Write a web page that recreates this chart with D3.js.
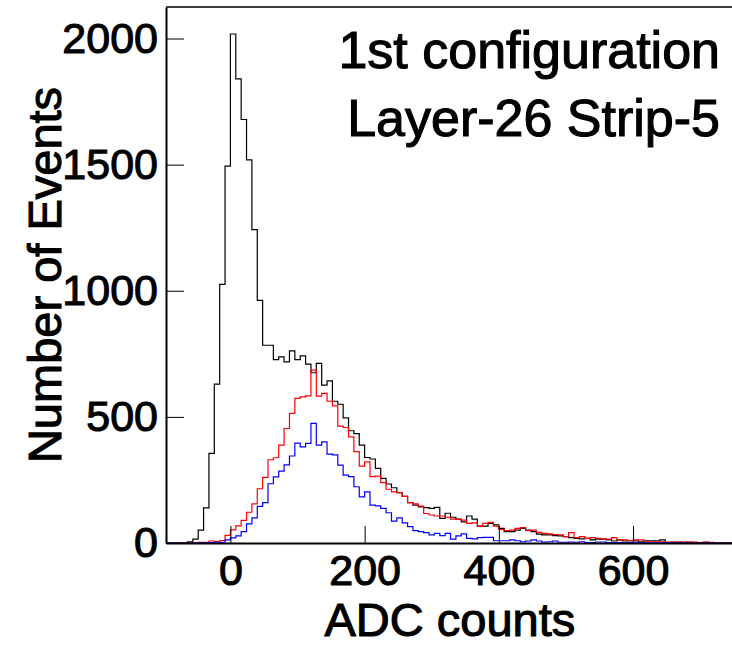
<html>
    <head>
        <title>ADC counts</title>
        <script src="https://d3js.org/d3.v7.min.js"></script>
        <style>
            body { margin: 0; background: #fff; }
            text { font-family: "Liberation Sans", Arial, sans-serif; fill: #000; stroke: #000; stroke-width: 1.1px; }
        </style>
    </head>
    <body>
        <script>
            // histogram bins: 8 ADC counts wide, first bin starts at -96
            const binLow = -96;
            const binWidth = 8;

            const allEvents = [
                0, 0, 1, 2, 5, 15, 51, 139, 355, 630,
                1025, 1494, 2018, 1840, 1679, 1519, 1242, 962, 784, 784,
                727, 738, 718, 762, 727, 742, 709, 675, 712, 626,
                643, 562, 550, 496, 445, 434, 388, 339, 333, 296,
                256, 234, 219, 200, 185, 160, 150, 143, 140, 137,
                141, 98, 118, 102, 95, 84, 107, 95, 67, 67,
                78, 72, 58, 45, 45, 51, 58, 51, 45, 35,
                32, 32, 29, 28, 25, 21, 18, 16, 18, 12,
                15, 15, 12, 8, 12, 8, 9, 9, 5, 9,
                9, 9, 12, 3, 3, 4, 3, 2, 3, 2,
                3, 1, 2, 1, 2, 1
            ];
            const redEvents = [
                0, 0, 0, 0, 1, 2, 3, 3, 8, 6,
                10, 30, 52, 68, 90, 122, 155, 215, 260, 330,
                338, 388, 454, 514, 573, 579, 583, 685, 582, 593,
                562, 544, 463, 458, 421, 362, 305, 322, 263, 265,
                239, 213, 203, 200, 185, 160, 155, 146, 117, 111,
                107, 107, 102, 95, 94, 91, 78, 80, 67, 78,
                82, 67, 54, 49, 51, 58, 61, 49, 51, 42,
                38, 36, 33, 32, 25, 41, 21, 25, 18, 21,
                18, 16, 15, 21, 12, 12, 9, 12, 12, 5,
                5, 5, 5, 3, 4, 3, 4, 5, 3, 2,
                4, 3, 2, 2, 1, 2
            ];
            const blueEvents = [
                0, 0, 0, 0, 0, 0, 1, 1, 2, 3,
                3, 12, 20, 28, 45, 76, 100, 145, 160, 235,
                262, 285, 310, 345, 396, 381, 395, 474, 388, 401,
                352, 349, 309, 269, 263, 223, 183, 203, 150, 147,
                137, 120, 87, 100, 80, 65, 49, 45, 41, 32,
                38, 29, 38, 15, 28, 36, 18, 16, 21, 22,
                22, 9, 9, 9, 12, 9, 5, 8, 12, 8,
                4, 5, 8, 3, 3, 4, 3, 5, 2, 2,
                4, 4, 2, 1, 2, 1, 2, 3, 1, 1,
                0, 1, 1, 0, 1, 0, 0, 0, 0, 0,
                0, 0, 0, 0, 0, 0
            ];

            const xTickValues = [0, 200, 400, 600];
            const yTickValues = [0, 500, 1000, 1500, 2000];
            const titleLines = ["1st configuration", "Layer-26 Strip-5"];

            const w = 732;
            const h = 646;
            const padLeft = 166, padRight = 733.7, padTop = 7, padBottom = 543;

            const xScale = d3.scaleLinear().domain([-96, 750]).range([padLeft, padRight]);
            const yScale = d3.scaleLinear().domain([0, 2125]).range([padBottom, padTop]);

            const svg = d3.select("body")
                .append("svg")
                .attr("width", w)
                .attr("height", h);

            svg.append("rect").attr("width", w).attr("height", h).attr("fill", "#fff");

            svg.append("clipPath").attr("id", "plot")
                .append("rect")
                .attr("x", padLeft).attr("y", padTop)
                .attr("width", padRight - padLeft).attr("height", padBottom - padTop + 1);

            const step = d3.line().curve(d3.curveStepAfter);
            function histPoints(counts) {
                const pts = counts.map((c, i) => [xScale(binLow + i * binWidth), yScale(c)]);
                pts.push([xScale(binLow + counts.length * binWidth), yScale(counts[counts.length - 1])]);
                return pts;
            }

            const hists = svg.append("g").attr("clip-path", "url(#plot)");
            [[allEvents, "#000"], [redEvents, "#ff0000"], [blueEvents, "#0000ff"]].forEach(([counts, color]) => {
                hists.append("path")
                    .attr("d", step(histPoints(counts)))
                    .attr("fill", "none")
                    .attr("stroke", color)
                    .attr("stroke-width", 1.2);
            });

            // frame top
            svg.append("line")
                .attr("x1", padLeft).attr("x2", padRight)
                .attr("y1", padTop).attr("y2", padTop)
                .attr("stroke", "#000").attr("stroke-width", 1.5);

            const yAxis = d3.axisLeft(yScale).tickValues(yTickValues).tickFormat(d3.format("d"))
                .tickSize(-18).tickSizeOuter(0).tickPadding(8);
            const xAxis = d3.axisBottom(xScale).tickValues(xTickValues).tickFormat(d3.format("d"))
                .tickSize(-17).tickSizeOuter(0).tickPadding(11);

            const gy = svg.append("g")
                .attr("transform", `translate(${padLeft}, 0)`)
                .call(yAxis);
            const gx = svg.append("g")
                .attr("transform", `translate(0, ${padBottom})`)
                .call(xAxis);

            [gx, gy].forEach(g => {
                g.attr("font-family", null).attr("font-size", null);
                g.select(".domain").attr("stroke", "#000").attr("stroke-width", 2);
                g.selectAll(".tick line").attr("stroke", "#000").attr("stroke-width", 1);
                g.selectAll(".tick text").style("font-size", "43px");
            });

            svg.append("text")
                .attr("x", (padLeft + padRight) / 2)
                .attr("y", 636)
                .attr("text-anchor", "middle")
                .style("font-size", "47px")
                .text("ADC counts");

            svg.append("text")
                .attr("transform", `translate(61, ${(padTop + padBottom) / 2}) rotate(-90)`)
                .attr("text-anchor", "middle")
                .style("font-size", "47px")
                .text("Number of Events");

            svg.selectAll(".title")
                .data(titleLines)
                .enter()
                .append("text")
                .attr("class", "title")
                .attr("x", 720)
                .attr("y", (d, i) => 68 + i * 68)
                .attr("text-anchor", "end")
                .style("font-size", "52px")
                .text(d => d);
        </script>
    </body>
</html>
